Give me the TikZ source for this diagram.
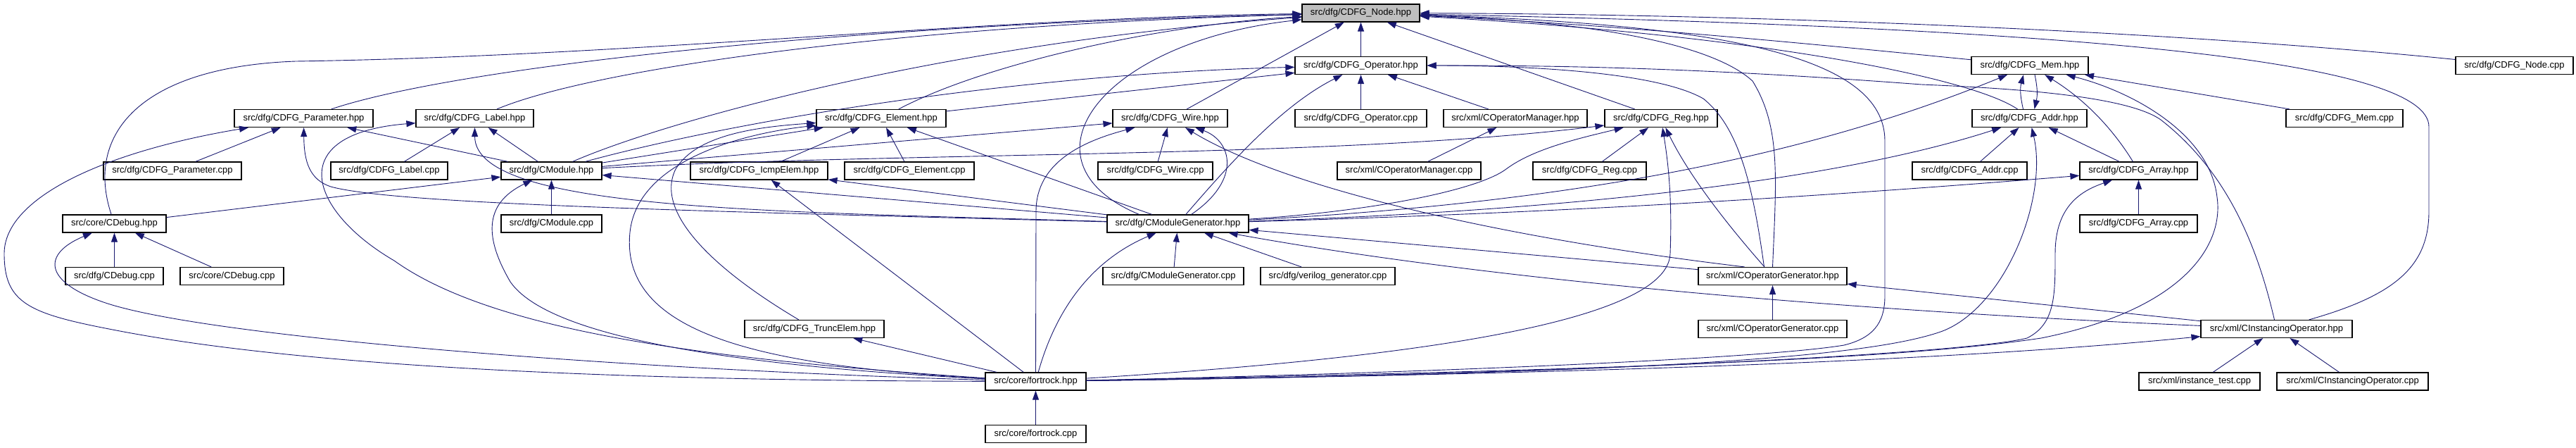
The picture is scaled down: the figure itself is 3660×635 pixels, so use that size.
\documentclass[tikz,border=0pt]{standalone}
\usepackage{fontspec}
\setmainfont{Liberation Sans}
\usetikzlibrary{arrows.meta}
\definecolor{edgeblue}{RGB}{25,25,112}

\begin{document}
\begin{tikzpicture}[x=1pt, y=-1pt,
  filebox/.style={draw=black, line width=1.2pt, fill=white, minimum height=25, inner xsep=2, font=\fontsize{13}{15}\selectfont},
  rootbox/.style={filebox, fill=black!25},
  dep/.style={draw=edgeblue, line width=0.9pt, -{Triangle[length=13pt,width=9pt]}}]
\useasboundingbox (0,0) rectangle (3660,635);

% headers and sources, row by row
\node[rootbox, minimum width=167] (nodehpp) at (1933.5,18.5) {src/dfg/CDFG\_Node.hpp};

\node[filebox, minimum width=187] (ophpp) at (1933.5,93) {src/dfg/CDFG\_Operator.hpp};
\node[filebox, minimum width=166] (memhpp) at (2884,93) {src/dfg/CDFG\_Mem.hpp};
\node[filebox, minimum width=167] (nodecpp) at (3572.5,93) {src/dfg/CDFG\_Node.cpp};

\node[filebox, minimum width=197] (paramhpp) at (431.5,168) {src/dfg/CDFG\_Parameter.hpp};
\node[filebox, minimum width=167] (labelhpp) at (674.5,168) {src/dfg/CDFG\_Label.hpp};
\node[filebox, minimum width=184] (elemhpp) at (1252,168) {src/dfg/CDFG\_Element.hpp};
\node[filebox, minimum width=163] (wirehpp) at (1662.5,168) {src/dfg/CDFG\_Wire.hpp};
\node[filebox, minimum width=187] (opcpp) at (1933.5,168) {src/dfg/CDFG\_Operator.cpp};
\node[filebox, minimum width=204] (opmanhpp) at (2153,168) {src/xml/COperatorManager.hpp};
\node[filebox, minimum width=160] (reghpp) at (2360,168) {src/dfg/CDFG\_Reg.hpp};
\node[filebox, minimum width=163] (addrhpp) at (2883.5,168) {src/dfg/CDFG\_Addr.hpp};
\node[filebox, minimum width=166] (memcpp) at (3331,168) {src/dfg/CDFG\_Mem.cpp};

\node[filebox, minimum width=196] (paramcpp) at (245,242.5) {src/dfg/CDFG\_Parameter.cpp};
\node[filebox, minimum width=166] (labelcpp) at (553,242.5) {src/dfg/CDFG\_Label.cpp};
\node[filebox, minimum width=143] (modhpp) at (783.5,242.5) {src/dfg/CModule.hpp};
\node[filebox, minimum width=195] (icmphpp) at (1078.5,242.5) {src/dfg/CDFG\_IcmpElem.hpp};
\node[filebox, minimum width=184] (elemcpp) at (1292,242.5) {src/dfg/CDFG\_Element.cpp};
\node[filebox, minimum width=163] (wirecpp) at (1641.5,242.5) {src/dfg/CDFG\_Wire.cpp};
\node[filebox, minimum width=204] (opmancpp) at (2002,242.5) {src/xml/COperatorManager.cpp};
\node[filebox, minimum width=161] (regcpp) at (2258.5,242.5) {src/dfg/CDFG\_Reg.cpp};
\node[filebox, minimum width=163] (addrcpp) at (2798.5,242.5) {src/dfg/CDFG\_Addr.cpp};
\node[filebox, minimum width=167] (arrayhpp) at (3038.5,242.5) {src/dfg/CDFG\_Array.hpp};

\node[filebox, minimum width=147] (debughpp) at (162.5,317.5) {src/core/CDebug.hpp};
\node[filebox, minimum width=143] (modcpp) at (783.5,317.5) {src/dfg/CModule.cpp};
\node[filebox, minimum width=201] (modgenhpp) at (1673.5,317.5) {src/dfg/CModuleGenerator.hpp};
\node[filebox, minimum width=167] (arraycpp) at (3038.5,317.5) {src/dfg/CDFG\_Array.cpp};

\node[filebox, minimum width=139] (dfgdebugcpp) at (162.5,392) {src/dfg/CDebug.cpp};
\node[filebox, minimum width=147] (coredebugcpp) at (329.5,392) {src/core/CDebug.cpp};
\node[filebox, minimum width=200] (modgencpp) at (1667,392) {src/dfg/CModuleGenerator.cpp};
\node[filebox, minimum width=191] (verilogcpp) at (1886.5,392) {src/dfg/verilog\_generator.cpp};
\node[filebox, minimum width=211] (opgenhpp) at (2518.5,392) {src/xml/COperatorGenerator.hpp};

\node[filebox, minimum width=198] (truncelemhpp) at (1157,467) {src/dfg/CDFG\_TruncElem.hpp};
\node[filebox, minimum width=211] (opgencpp) at (2518.5,467) {src/xml/COperatorGenerator.cpp};
\node[filebox, minimum width=215] (instophpp) at (3234.5,467) {src/xml/CInstancingOperator.hpp};

\node[filebox, minimum width=143] (fortrockhpp) at (1471.5,541.5) {src/core/fortrock.hpp};
\node[filebox, minimum width=172] (insttestcpp) at (3125,541.5) {src/xml/instance\_test.cpp};
\node[filebox, minimum width=215] (instopcpp) at (3342.5,541.5) {src/xml/CInstancingOperator.cpp};

\node[filebox, minimum width=143] (fortrockcpp) at (1471.5,616) {src/core/fortrock.cpp};

% into CDFG_Node.hpp
\draw[dep] (ophpp) -- (nodehpp);
\draw[dep] (wirehpp) -- (nodehpp);
\draw[dep] (reghpp) -- (nodehpp);
\draw[dep] (paramhpp) .. controls (650,95) and (1200,35) .. (nodehpp);
\draw[dep] (labelhpp) .. controls (850,95) and (1300,35) .. (nodehpp);
\draw[dep] (debughpp) .. controls (120,190) and (200,95) .. (420,87) .. controls (900,80) and (1400,25) .. (nodehpp);
\draw[dep] (modhpp) .. controls (950,170) and (1350,60) .. (nodehpp);
\draw[dep] (elemhpp) .. controls (1400,90) and (1650,35) .. (nodehpp);
\draw[dep] ([xshift=-55pt]modgenhpp.north) .. controls (1440,230) and (1560,60) .. (nodehpp);
\draw[dep] (opgenhpp.north) .. controls (2524,250) and (2530,180) .. (2490,115) .. controls (2430,60) and (2250,30) .. (nodehpp);
\draw[dep] (fortrockhpp) .. controls (2000,530) and (2500,510) .. (2620,490) .. controls (2660,480) and (2678,460) .. (2678,420) -- (2678,200) .. controls (2678,80) and (2450,35) .. (nodehpp);
\draw[dep] (nodecpp) .. controls (3100,45) and (2500,20) .. (nodehpp);
\draw[dep] (instophpp) .. controls (3400,420) and (3451,380) .. (3451,300) -- (3451,180) .. controls (3451,90) and (3000,40) .. (nodehpp);
\draw[dep] (memhpp) .. controls (2600,65) and (2300,35) .. (nodehpp);
\draw[dep] ([xshift=-17pt]addrhpp.north) .. controls (2800,110) and (2500,50) .. (nodehpp);

% into CDFG_Operator.hpp
\draw[dep] (opcpp) -- (ophpp);
\draw[dep] (opmanhpp) -- (ophpp);
\draw[dep] (elemhpp) -- (ophpp);
\draw[dep] (modhpp) .. controls (1050,170) and (1450,105) .. (ophpp);
\draw[dep] (modgenhpp) .. controls (1745,235) and (1820,150) .. (ophpp);
\draw[dep] ([xshift=-12pt]opgenhpp.north) .. controls (2490,260) and (2470,180) .. (2420,140) .. controls (2350,100) and (2150,93) .. (ophpp);
\draw[dep] (instophpp) .. controls (3205,340) and (3160,240) .. (3070,170) .. controls (3020,135) and (2850,125) .. (2730,120) .. controls (2400,95) and (2200,93) .. (ophpp);

% into CDFG_Mem.hpp
\draw[dep] ([xshift=-9pt]addrhpp.north) .. controls (2870,135) and (2870,125) .. ([xshift=-9pt]memhpp.south);
\draw[dep] (memcpp) -- (memhpp);
\draw[dep] (arrayhpp) .. controls (3000,180) and (2960,140) .. (memhpp);
\draw[dep] (modgenhpp) .. controls (2200,290) and (2550,230) .. (memhpp);
\draw[dep] (fortrockhpp) .. controls (2300,525) and (2700,510) .. (2900,480) .. controls (3100,440) and (3160,350) .. (3150,280) .. controls (3140,190) and (3030,130) .. (memhpp);

% into CDFG_Addr.hpp
\draw[dep] ([xshift=7pt]memhpp.south) .. controls (2895,125) and (2895,135) .. ([xshift=7pt]addrhpp.north);
\draw[dep] (addrcpp) -- (addrhpp);
\draw[dep] (arrayhpp) -- (addrhpp);
\draw[dep] (modgenhpp) .. controls (2200,300) and (2600,260) .. (addrhpp);
\draw[dep] (fortrockhpp) .. controls (2300,530) and (2650,510) .. (2760,470) .. controls (2850,435) and (2910,280) .. (addrhpp);

% into CDFG_Array.hpp
\draw[dep] (arraycpp) -- (arrayhpp);
\draw[dep] (modgenhpp) .. controls (2300,300) and (2700,270) .. (arrayhpp);
\draw[dep] (fortrockhpp) .. controls (2300,530) and (2800,500) .. (2880,480) .. controls (2920,460) and (2920,420) .. (2920,360) .. controls (2920,290) and (2960,270) .. (arrayhpp);

% into CDFG_Reg.hpp
\draw[dep] (regcpp) -- (reghpp);
\draw[dep] (modhpp) .. controls (1300,215) and (1900,225) .. ([yshift=-10pt]reghpp.west);
\draw[dep] (modgenhpp) .. controls (1950,300) and (2100,270) .. (2140,240) .. controls (2180,210) and (2250,195) .. (reghpp);
\draw[dep] (fortrockhpp) .. controls (1900,515) and (2370,470) .. (2373,360) .. controls (2376,280) and (2370,230) .. (reghpp);
\draw[dep] (opgenhpp) .. controls (2455,320) and (2400,250) .. (reghpp);

% into CDFG_Element.hpp
\draw[dep] (elemcpp) -- (elemhpp);
\draw[dep] (icmphpp) -- (elemhpp);
\draw[dep] (modhpp) -- (elemhpp);
\draw[dep] (modgenhpp) -- (elemhpp);
\draw[dep] (truncelemhpp) .. controls (1010,380) and (930,300) .. (960,240) .. controls (990,190) and (1080,180) .. (elemhpp);
\draw[dep] (fortrockhpp) .. controls (1100,520) and (880,480) .. (895,330) .. controls (905,230) and (1050,190) .. (elemhpp);

% into CDFG_Wire.hpp
\draw[dep] (wirecpp) -- (wirehpp);
\draw[dep] (modhpp) -- (wirehpp);
\draw[dep] (modgenhpp) .. controls (1765,255) and (1750,200) .. (wirehpp);
\draw[dep] (fortrockhpp.north) -- (1472,300) .. controls (1472,230) and (1540,200) .. (wirehpp);
\draw[dep] ([xshift=-40pt]opgenhpp.north) .. controls (2150,340) and (1830,270) .. (wirehpp);

% into CModule.hpp
\draw[dep] (modcpp) -- (modhpp);
\draw[dep] (debughpp) -- (modhpp);
\draw[dep] (modgenhpp) -- (modhpp);
\draw[dep] (fortrockhpp) .. controls (1050,520) and (780,480) .. (725,400) .. controls (690,340) and (685,290) .. (modhpp);

% into CDFG_Parameter.hpp
\draw[dep] (paramcpp) -- (paramhpp);
\draw[dep] (modhpp) -- (paramhpp);
\draw[dep] (modgenhpp) .. controls (1000,300) and (560,290) .. (470,265) .. controls (440,255) and (432,230) .. (paramhpp);
\draw[dep] (fortrockhpp) .. controls (800,540) and (400,515) .. (160,468) .. controls (40,445) and (6,430) .. (6,360) .. controls (6,280) and (150,215) .. (paramhpp);

% into CDFG_Label.hpp
\draw[dep] (labelcpp) -- (labelhpp);
\draw[dep] (modhpp) -- (labelhpp);
\draw[dep] (modgenhpp) .. controls (1100,300) and (675,300) .. (labelhpp);
\draw[dep] (fortrockhpp) .. controls (1000,510) and (700,470) .. (560,370) .. controls (440,300) and (400,190) .. (labelhpp);

% into CDebug.hpp
\draw[dep] (dfgdebugcpp) -- (debughpp);
\draw[dep] (coredebugcpp) -- (debughpp);
\draw[dep] (fortrockhpp) .. controls (900,525) and (300,480) .. (150,430) .. controls (60,400) and (60,360) .. (debughpp);

% into IcmpElem, TruncElem
\draw[dep] (modgenhpp) -- (icmphpp);
\draw[dep] (fortrockhpp) -- (icmphpp);
\draw[dep] (fortrockhpp) -- (truncelemhpp);

% into CModuleGenerator.hpp
\draw[dep] (modgencpp) -- (modgenhpp);
\draw[dep] (verilogcpp) -- (modgenhpp);
\draw[dep] (fortrockhpp) .. controls (1500,440) and (1550,370) .. (modgenhpp);
\draw[dep] (opgenhpp) -- (modgenhpp);
\draw[dep] (instophpp) .. controls (2600,440) and (2100,395) .. (modgenhpp);

% the xml side
\draw[dep] (opmancpp) -- (opmanhpp);
\draw[dep] (opgencpp) -- (opgenhpp);
\draw[dep] (instophpp) -- (opgenhpp);
\draw[dep] (insttestcpp) -- (instophpp);
\draw[dep] (instopcpp) -- (instophpp);
\draw[dep] (fortrockhpp) .. controls (2300,530) and (2800,510) .. (instophpp);

\draw[dep] (fortrockcpp) -- (fortrockhpp);
\end{tikzpicture}
\end{document}
